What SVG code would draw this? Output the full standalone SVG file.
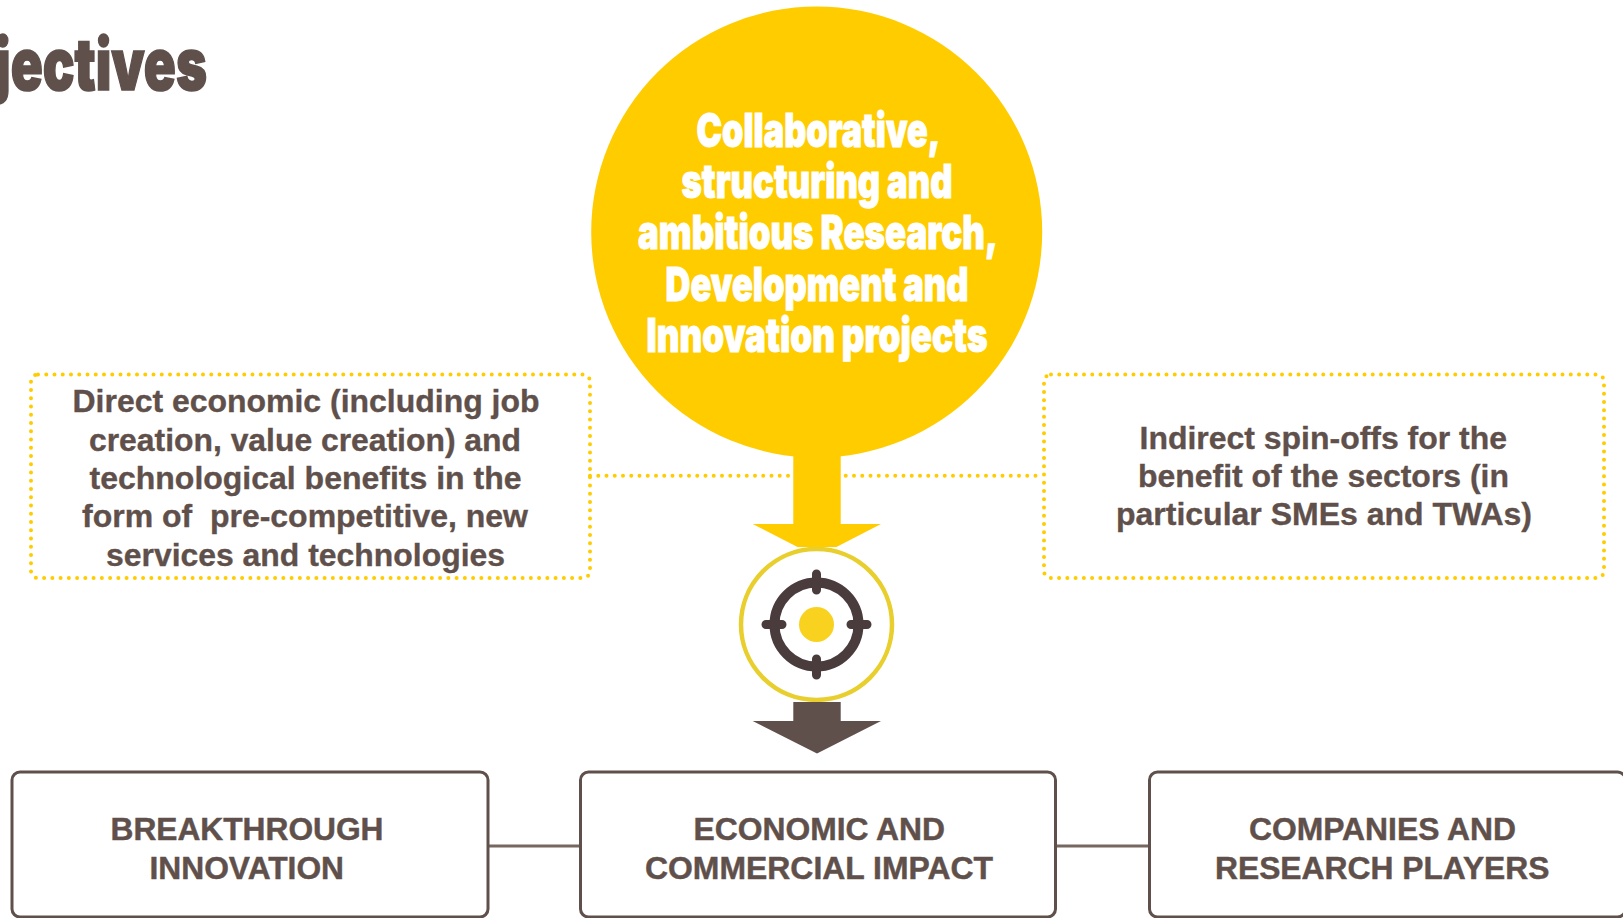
<svg xmlns="http://www.w3.org/2000/svg" width="1623" height="918" viewBox="0 0 1623 918">
<style>
text{font-family:"Liberation Sans",Arial,sans-serif;font-weight:700;fill:#5f504b}
.body{font-size:31.5px;stroke:#5f504b;stroke-width:.35px}
.caps{font-size:31.5px;stroke:#5f504b;stroke-width:.45px}
.heavy{font-family:Inter,"Liberation Sans",sans-serif;font-weight:900}
.hero{font-size:47px;fill:#fff;stroke:#fff;stroke-width:1px}
.title{font-size:72px;stroke:#5f504b;stroke-width:1.6px}
.dot{fill:none;stroke:#ffcc00;stroke-width:4;stroke-linecap:round;stroke-dasharray:0 8.25}
.box{fill:#fff;stroke:#5f504b;stroke-width:3}
.link{fill:none;stroke:#76675f;stroke-width:3}
.ring{fill:none;stroke:#4a3c3c;stroke-width:10}
.tick{stroke:#4a3c3c;stroke-width:9;stroke-linecap:round}
</style>
<rect width="1623" height="918" fill="#fff"/>
<text id="title" class="heavy title" x="-5" y="90" textLength="212" lengthAdjust="spacingAndGlyphs">jectives</text>
<g id="connectors">
<path class="dot" d="M590 475.7H1043"/>
<path class="link" d="M488 846H580M1056 846H1149"/>
</g>
<g id="node-left">
<rect class="dot" x="31" y="374.5" width="559" height="203.5" rx="7"/>
<text class="body" x="72.5" y="412" textLength="467" lengthAdjust="spacingAndGlyphs">Direct economic (including job</text>
<text class="body" x="89" y="450.5" textLength="432" lengthAdjust="spacingAndGlyphs">creation, value creation) and</text>
<text class="body" x="89.5" y="489" textLength="432" lengthAdjust="spacingAndGlyphs">technological benefits in the</text>
<text class="body" x="82" y="527" textLength="446" lengthAdjust="spacingAndGlyphs">form of &#160;pre-competitive, new</text>
<text class="body" x="106" y="566" textLength="399" lengthAdjust="spacingAndGlyphs">services and technologies</text>
</g>
<g id="node-right">
<rect class="dot" x="1044" y="374.5" width="560" height="203.5" rx="7"/>
<text class="body" x="1139.5" y="448.5" textLength="367.5" lengthAdjust="spacingAndGlyphs">Indirect spin-offs for the</text>
<text class="body" x="1138" y="486.5" textLength="371" lengthAdjust="spacingAndGlyphs">benefit of the sectors (in</text>
<text class="body" x="1116" y="524.5" textLength="416" lengthAdjust="spacingAndGlyphs">particular SMEs and TWAs)</text>
</g>
<g id="node-projects">
<path fill="#ffcc00" d="M793.3 440V524H752.7L817 557L881 524H840.7V440Z"/>
<circle cx="816.7" cy="232" r="225.5" fill="#ffcc00"/>
<text class="heavy hero" x="696.5" y="146.5" textLength="244" lengthAdjust="spacingAndGlyphs">Collaborative,</text>
<text class="heavy hero" x="681.5" y="198" textLength="271" lengthAdjust="spacingAndGlyphs">structuring and</text>
<text class="heavy hero" x="638" y="249" textLength="360" lengthAdjust="spacingAndGlyphs">ambitious Research,</text>
<text class="heavy hero" x="665.5" y="300.5" textLength="303" lengthAdjust="spacingAndGlyphs">Development and</text>
<text class="heavy hero" x="646.5" y="351.5" textLength="341" lengthAdjust="spacingAndGlyphs">Innovation projects</text>
</g>
<g id="node-target">
<rect x="740" y="547" width="154" height="155" fill="#fff"/>
<circle cx="816.5" cy="624.5" r="75.5" fill="#fff" stroke="#e8cf2e" stroke-width="4.5"/>
<circle class="ring" cx="816.5" cy="624.5" r="42"/>
<circle cx="816.5" cy="624.5" r="17.5" fill="#f9d21f"/>
<path class="tick" d="M816.5 574V590M816.5 659V675M766 624.5H782M851 624.5H867"/>
</g>
<path id="arrow-down" fill="#5f504b" d="M793.3 702H840.7V721H881L817 753.5L752.7 721H793.3Z"/>
<g id="node-breakthrough">
<rect class="box" x="12" y="772" width="476" height="145" rx="8"/>
<text class="caps" x="110.5" y="839.5" textLength="273" lengthAdjust="spacingAndGlyphs">BREAKTHROUGH</text>
<text class="caps" x="149.5" y="878.5" textLength="194.5" lengthAdjust="spacingAndGlyphs">INNOVATION</text>
</g>
<g id="node-economic">
<rect class="box" x="580.5" y="772" width="475" height="145" rx="8"/>
<text class="caps" x="693.5" y="839.5" textLength="251.5" lengthAdjust="spacingAndGlyphs">ECONOMIC AND</text>
<text class="caps" x="645" y="878.5" textLength="348" lengthAdjust="spacingAndGlyphs">COMMERCIAL IMPACT</text>
</g>
<g id="node-companies">
<rect class="box" x="1149.5" y="772" width="476" height="145" rx="8"/>
<text class="caps" x="1249" y="839.5" textLength="267" lengthAdjust="spacingAndGlyphs">COMPANIES AND</text>
<text class="caps" x="1215" y="878.5" textLength="334.5" lengthAdjust="spacingAndGlyphs">RESEARCH PLAYERS</text>
</g>
</svg>
